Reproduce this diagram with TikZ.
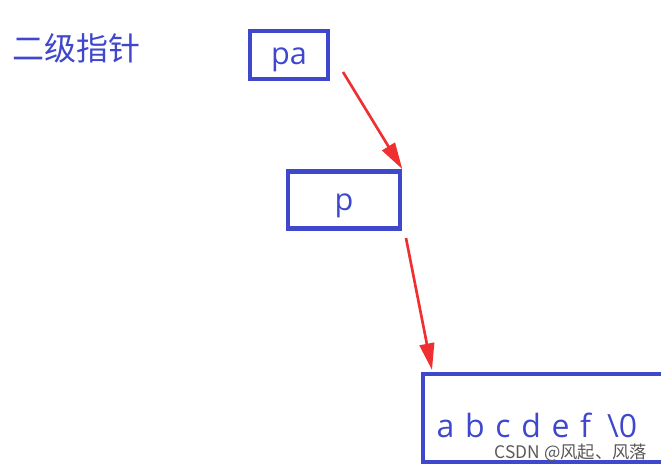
\documentclass[tikz,border=0pt]{standalone}
\usepackage{fontspec}
\setmainfont{Open Sans}
\newfontfamily\cjk{Noto Sans CJK SC}
\usetikzlibrary{arrows.meta}
\definecolor{bl}{HTML}{3F48CC}
\definecolor{rd}{HTML}{F03030}
\tikzset{bx/.style={draw=bl,line width=3.5pt,text=bl,font=\fontsize{23}{23}\selectfont},
 arr/.style={draw=rd,line width=2pt,-{Triangle[length=20pt,width=11pt]}}}
\begin{document}
\begin{tikzpicture}[x=0.75pt,y=-0.75pt]
\useasboundingbox (0,0) rectangle (661,472);
\node[text=bl,font=\cjk\fontsize{24}{24}\selectfont,anchor=west] (t) at (8,48) {二级指针};
\node[bx,minimum width=78*0.75pt,minimum height=48*0.75pt,text depth=0pt,text height=14pt] (pa) at (289,55) {pa};
\node[bx,minimum width=112*0.75pt,minimum height=57*0.75pt,text depth=0pt,text height=16pt] (p) at (344,200) {p};
\coordinate (c1) at (343,72);
\coordinate (c2) at (406,238);
\draw[arr] (c1) -- (p.north east);
\coordinate (bt) at (432,370);
\draw[arr] (c2) -- (bt);
\draw[bl,line width=3.5pt] (664,374) -| (423,462) -- (664,462);
\node[text=bl,font=\fontsize{24}{24}\selectfont,anchor=west] (s) at (432,425) {a\,\,b\,\,c\,\,d\,\,e\,\,f\,\,\,\textbackslash0};
\node[text=gray!70!black,font=\cjk\fontsize{13}{13}\selectfont,anchor=east] (w) at (652,453) {CSDN @风起、风落};
\end{tikzpicture}
\end{document}
